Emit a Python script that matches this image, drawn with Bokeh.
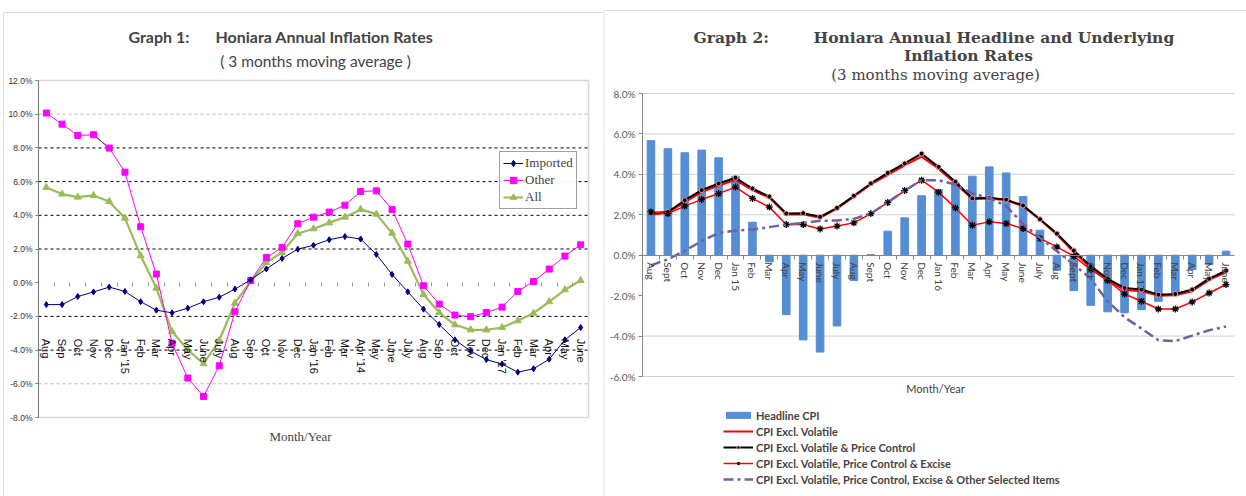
import math
from bokeh.plotting import figure
from bokeh.models import Range1d, FixedTicker, PrintfTickFormatter, Label, BoxAnnotation
from bokeh.layouts import row
from bokeh.embed import file_html
from bokeh.resources import INLINE

# ---------------- Graph 1 data ----------------
g1_months = ["Aug", "Sep", "Oct", "Nov", "Dec", "Jan '15", "Feb", "Mar", "Apr", "May",
             "June", "July", "Aug", "Sep", "Oct", "Nov", "Dec", "Jan '16", "Feb", "Mar",
             "Apr '14", "May", "June", "July", "Aug", "Sep", "Oct", "Nov", "Dec", "Jan '17",
             "Feb", "Mar", "Apr", "May", "June"]
imported = [-1.3, -1.3, -0.82, -0.55, -0.26, -0.52, -1.13, -1.63, -1.79, -1.51, -1.13, -0.86,
            -0.38, 0.17, 0.82, 1.44, 1.99, 2.22, 2.55, 2.74, 2.59, 1.68, 0.49, -0.54, -1.57,
            -2.48, -3.39, -4.06, -4.56, -4.83, -5.31, -5.11, -4.54, -3.39, -2.66]
other = [10.07, 9.41, 8.74, 8.78, 7.99, 6.56, 3.32, 0.51, -3.59, -5.66, -6.75, -4.93, -1.73,
         0.13, 1.49, 2.1, 3.5, 3.89, 4.19, 4.6, 5.41, 5.45, 4.35, 2.29, -0.18, -1.27, -1.92,
         -2.02, -1.77, -1.45, -0.52, 0.07, 0.81, 1.58, 2.25]
all_items = [5.65, 5.26, 5.08, 5.18, 4.82, 3.83, 1.6, -0.32, -2.9, -3.98, -4.81, -3.43, -1.21,
             0.07, 1.2, 1.8, 2.92, 3.2, 3.55, 3.89, 4.35, 4.07, 2.94, 1.28, -0.7, -1.77, -2.5,
             -2.8, -2.8, -2.66, -2.26, -1.81, -1.13, -0.42, 0.13]
g1_yticks = [12, 10, 8, 6, 4, 2, 0, -2, -4, -6, -8]
g1_dark_grid = [8, 6, 4, 2, -2, -4]
g1_light_grid = [10, -6]

# ---------------- Graph 2 data ----------------
g2_months = ["Aug", "Sept", "Oct", "Nov", "Dec", "Jan 15", "Feb", "Mar", "Apr", "May",
             "June", "July", "Aug", "Sept", "Oct", "Nov", "Dec", "Jan 16", "Feb", "Mar",
             "Apr", "May", "June", "July", "Aug", "Sept", "Oct", "Nov", "Dec", "Jan 17",
             "Feb", "Mar", "Apr", "May", "June"]
headline = [5.67, 5.27, 5.07, 5.2, 4.82, 3.9, 1.63, -0.33, -2.94, -4.19, -4.79, -3.5, -1.25,
            0.03, 1.19, 1.85, 2.94, 3.25, 3.58, 3.91, 4.37, 4.07, 2.9, 1.24, -0.74, -1.75,
            -2.48, -2.8, -2.85, -2.69, -2.28, -1.95, -0.71, -0.46, 0.2]
excl_volatile = [2.0, 2.1, 2.62, 3.12, 3.45, 3.72, 3.22, 2.84, 2.02, 2.03, 1.85, 2.3, 2.9, 3.5,
                 3.98, 4.45, 4.88, 4.28, 3.55, 2.78, 2.8, 2.72, 2.42, 1.75, 1.02, 0.15, -0.62,
                 -1.27, -1.72, -1.78, -2.0, -1.98, -1.78, -1.22, -0.85]
excl_vol_pc = [2.09, 2.14, 2.72, 3.22, 3.55, 3.83, 3.3, 2.9, 2.06, 2.08, 1.9, 2.34, 2.94, 3.55,
               4.07, 4.54, 5.02, 4.37, 3.63, 2.81, 2.84, 2.75, 2.46, 1.78, 1.07, 0.23, -0.54,
               -1.17, -1.62, -1.7, -1.95, -1.92, -1.7, -1.16, -0.76]
excl_vol_pc_excise = [2.14, 2.06, 2.43, 2.76, 3.05, 3.37, 2.81, 2.38, 1.52, 1.52, 1.3, 1.44, 1.6,
                      2.06, 2.61, 3.2, 3.71, 3.12, 2.34, 1.48, 1.65, 1.57, 1.32, 0.83, 0.41,
                      -0.05, -0.71, -1.25, -1.92, -2.28, -2.66, -2.66, -2.31, -1.87, -1.45]
excl_other_selected = [-0.5, -0.2, 0.22, 0.7, 1.1, 1.22, 1.27, 1.39, 1.52, 1.6, 1.7, 1.72, 1.8,
                       2.06, 2.61, 3.2, 3.71, 3.71, 3.5, 3.05, 2.84, 2.43, 1.55, 0.86, 0.2,
                       -0.46, -1.16, -2.28, -3.07, -3.63, -4.2, -4.25, -3.98, -3.71, -3.53]
g2_yticks = [8, 6, 4, 2, 0, -2, -4, -6]
g2_grid = [8, 6, 4, 2, -4, -6]

# page layout (canvas origin at 0,0); each figure's frame fills its whole canvas
H = 496
W1, W2 = 603, 643

# ================= Graph 1 =================
# plot box on the page: x 38..588, 12% at y=80, -8% at y=417
n1 = len(g1_months)
g1_ppu = (417 - 80) / 20.0
g1_xpu = 550 / n1


def g1y(py):
    return 12 - (py - 80) / g1_ppu


def g1x(px):
    return (px - 38) / g1_xpu - 0.5


x1 = list(range(n1))
p1 = figure(width=W1, height=H, output_backend="svg", toolbar_location=None,
            x_range=Range1d(g1x(0), g1x(W1)), y_range=Range1d(g1y(H), g1y(0)),
            min_border_left=0, min_border_right=0, min_border_top=0, min_border_bottom=0,
            title_location=None)
p1.outline_line_color = None
p1.xgrid.visible = False
p1.ygrid.visible = False

# panel frame (top and left edges) and gridlines
p1.add_layout(BoxAnnotation(left=g1x(3), right=g1x(2000), top=g1y(12), bottom=g1y(2000),
                            fill_color=None, line_color="#8c8c8c", line_width=1))
p1.segment(x0=x1[0] - 0.5, x1=x1[-1] + 0.5, y0=g1_light_grid, y1=g1_light_grid,
           line_color="#b8b8b8", line_dash="3 3", line_width=1)
p1.segment(x0=x1[0] - 0.5, x1=x1[-1] + 0.5, y0=g1_dark_grid, y1=g1_dark_grid,
           line_color="black", line_dash="3 3", line_width=1)
p1.add_layout(BoxAnnotation(left=x1[0] - 0.5, right=x1[-1] + 0.5, top=max(g1_yticks),
                            bottom=min(g1_yticks), fill_color=None, line_color="#7f7f7f",
                            line_width=1.5))

ya = p1.yaxis[0]
ya.fixed_location = x1[0] - 0.5
ya.ticker = FixedTicker(ticks=g1_yticks)
ya.bounds = (min(g1_yticks), max(g1_yticks))
ya.formatter = PrintfTickFormatter(format="%.1f%%")
ya.major_label_text_font = "Liberation Sans"
ya.major_label_text_font_size = "8.5px"
ya.major_label_text_color = "#333333"
ya.major_tick_out = 3
ya.major_tick_in = 0
ya.minor_tick_out = 0
ya.minor_tick_in = 0
ya.major_label_standoff = 3
ya.axis_line_color = "#7f7f7f"
ya.major_tick_line_color = "#7f7f7f"

xa = p1.xaxis[0]
xa.ticker = FixedTicker(ticks=x1, minor_ticks=[i + 0.5 for i in x1[:-1]])
xa.major_label_overrides = {i: m for i, m in enumerate(g1_months)}
xa.fixed_location = 0
xa.major_label_orientation = -math.pi / 2
xa.major_tick_out = 0
xa.major_tick_in = 0
xa.minor_tick_out = 4
xa.minor_tick_in = 0
xa.minor_tick_line_color = "#999999"
xa.axis_line_color = None
xa.major_label_standoff = 52
xa.major_label_text_font = "Liberation Sans"
xa.major_label_text_font_size = "11px"
xa.major_label_text_color = "#111111"

p1.line(x1, all_items, color="#9bbb59", line_width=2.2, legend_label="All")
p1.scatter(x1, all_items, marker="triangle", size=7, color="#9bbb59", legend_label="All")
p1.line(x1, other, color="#ff00ff", line_width=1, legend_label="Other")
p1.line(x1[3:5], other[3:5], color="#404040", line_width=1)
p1.scatter(x1, other, marker="square", size=6, color="#ff00ff", legend_label="Other")
p1.line(x1, imported, color="#000080", line_width=1, legend_label="Imported")
p1.scatter(x1, imported, marker="diamond", size=6, color="#000080", legend_label="Imported")

leg1 = p1.legend[0]
leg1.items = [leg1.items[2], leg1.items[1], leg1.items[0]]
leg1.location = (499, H - 209)
leg1.label_text_font = "Liberation Serif"
leg1.label_text_font_size = "13px"
leg1.glyph_width = 20
leg1.glyph_height = 16
leg1.label_height = 16
leg1.label_standoff = 2
leg1.spacing = 1
leg1.padding = 3
leg1.margin = 0
leg1.border_line_color = "#404040"
leg1.border_line_width = 1

p1.add_layout(Label(x=g1x(128), y=g1y(36), text="Graph 1:", text_font="Lato",
                    text_font_style="bold", text_font_size="16px", text_baseline="middle",
                    text_align="left"))
p1.add_layout(Label(x=g1x(215), y=g1y(36), text="Honiara Annual Inflation Rates",
                    text_font="Lato", text_font_style="bold", text_font_size="16px",
                    text_baseline="middle", text_align="left"))
p1.add_layout(Label(x=g1x(315), y=g1y(60), text="( 3 months moving average )", text_font="Lato",
                    text_font_size="15.5px", text_baseline="middle", text_align="center"))
p1.add_layout(Label(x=g1x(300), y=g1y(436), text="Month/Year", text_font="Liberation Serif",
                    text_font_size="13px", text_baseline="middle", text_align="center"))

# ================= Graph 2 =================
# plot box on the page: x 642..1234, 8% at y=93, -6% at y=376
n2 = len(g2_months)
g2_ppu = (376 - 93) / 14.0
g2_xpu = 592 / n2


def g2y(py):
    return 8 - (py - 93) / g2_ppu


def g2x(px):
    return (px - 642) / g2_xpu - 0.5


x2 = list(range(n2))
p2 = figure(width=W2, height=H, output_backend="svg", toolbar_location=None,
            x_range=Range1d(g2x(W1), g2x(W1 + W2)), y_range=Range1d(g2y(H), g2y(0)),
            min_border_left=0, min_border_right=0, min_border_top=0, min_border_bottom=0,
            title_location=None)
p2.outline_line_color = None
p2.xgrid.visible = False
p2.ygrid.visible = False

p2.add_layout(BoxAnnotation(left=g2x(W1 + 0.5), right=g2x(3000), top=g2y(10), bottom=g2y(2000),
                            fill_color=None, line_color="#8c8c8c", line_width=1))
p2.segment(x0=x2[0] - 0.5, x1=x2[-1] + 0.5, y0=g2_grid, y1=g2_grid,
           line_color="#d0d0d0", line_width=1)

ya2 = p2.yaxis[0]
ya2.fixed_location = x2[0] - 0.5
ya2.ticker = FixedTicker(ticks=g2_yticks)
ya2.bounds = (min(g2_yticks), max(g2_yticks))
ya2.formatter = PrintfTickFormatter(format="%.1f%%")
ya2.major_label_text_font = "Lato"
ya2.major_label_text_font_size = "10px"
ya2.major_label_text_color = "#595959"
ya2.major_tick_out = 4
ya2.major_tick_in = 0
ya2.minor_tick_out = 0
ya2.minor_tick_in = 0
ya2.major_label_standoff = 3
ya2.axis_line_color = "#868686"
ya2.major_tick_line_color = "#868686"

xa2 = p2.xaxis[0]
xa2.ticker = FixedTicker(ticks=x2, minor_ticks=[i + 0.5 for i in x2[:-1]])
xa2.major_label_overrides = {i: m for i, m in enumerate(g2_months)}
xa2.fixed_location = 0
xa2.bounds = (x2[0] - 0.5, x2[-1] + 0.5)
xa2.major_label_orientation = -math.pi / 2
xa2.major_tick_out = 0
xa2.major_tick_in = 0
xa2.minor_tick_out = 4
xa2.minor_tick_in = 0
xa2.minor_tick_line_color = "#868686"
xa2.axis_line_color = "#868686"
xa2.major_label_standoff = 3
xa2.major_label_text_font = "Lato"
xa2.major_label_text_font_size = "10px"
xa2.major_label_text_color = "#404040"

p2.vbar(x=x2, top=headline, bottom=0, width=0.45, color="#558ED5", legend_label="Headline CPI")
p2.line(x2, excl_volatile, color="#ff0000", line_width=2, legend_label="CPI Excl. Volatile")
p2.line(x2, excl_vol_pc, color="black", line_width=2,
        legend_label="CPI Excl. Volatile & Price Control")
p2.scatter(x2, excl_vol_pc, marker="circle", size=5, fill_color="black", line_color="#f4a0a0",
           line_width=1, legend_label="CPI Excl. Volatile & Price Control")
p2.line(x2, excl_vol_pc_excise, color="#ff0000", line_width=1.5,
        legend_label="CPI Excl. Volatile, Price Control & Excise")
p2.scatter(x2, excl_vol_pc_excise, marker="asterisk", size=7, line_color="black", line_width=1.3,
           legend_label="CPI Excl. Volatile, Price Control & Excise")
p2.line(x2, excl_other_selected, color="#7060a0", line_width=2.5, line_dash="10 4 3 4",
        legend_label="CPI Excl. Volatile, Price Control, Excise & Other Selected Items")

leg2 = p2.legend[0]
leg2.location = (723 - W1, H - 487)
leg2.label_text_font = "Lato"
leg2.label_text_font_style = "bold"
leg2.label_text_font_size = "11px"
leg2.glyph_width = 30
leg2.glyph_height = 8
leg2.label_height = 16
leg2.label_standoff = 3
leg2.spacing = 0
leg2.padding = 0
leg2.margin = 0
leg2.border_line_color = None
leg2.background_fill_alpha = 0

p2.add_layout(Label(x=g2x(693), y=g2y(37), text="Graph 2:", text_font="DejaVu Serif",
                    text_font_style="bold", text_font_size="15.5px", text_baseline="middle",
                    text_align="left"))
p2.add_layout(Label(x=g2x(813), y=g2y(37), text="Honiara Annual Headline and Underlying",
                    text_font="DejaVu Serif", text_font_style="bold", text_font_size="15.5px",
                    text_baseline="middle", text_align="left"))
p2.add_layout(Label(x=g2x(968), y=g2y(55), text="Inflation Rates", text_font="DejaVu Serif",
                    text_font_style="bold", text_font_size="15.5px", text_baseline="middle",
                    text_align="center"))
p2.add_layout(Label(x=g2x(935), y=g2y(74), text="(3 months moving average)",
                    text_font="DejaVu Serif", text_font_size="15px", text_baseline="middle",
                    text_align="center"))
p2.add_layout(Label(x=g2x(935), y=g2y(388), text="Month/Year", text_font="Lato",
                    text_font_size="11px", text_baseline="middle", text_align="center",
                    text_color="#404040"))

layout = row(p1, p2)
open("out.html", "w").write(file_html(layout, INLINE))
